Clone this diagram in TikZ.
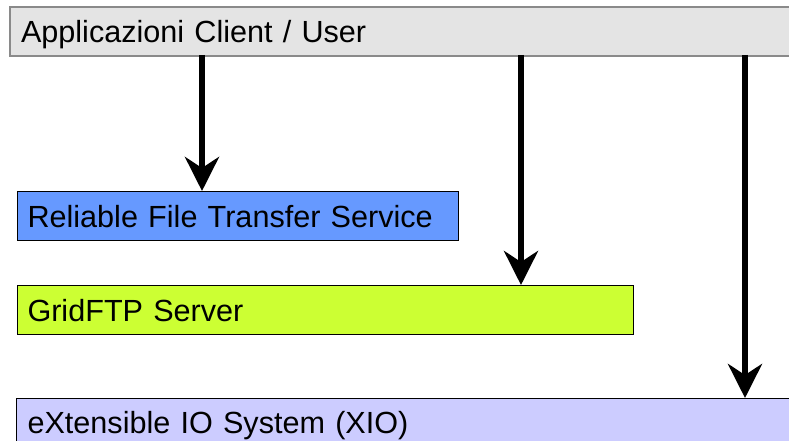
\documentclass[tikz,border=0pt]{standalone}
\usepackage{fontspec}
\setmainfont{Liberation Sans}
\usetikzlibrary{arrows.meta}
\definecolor{topfill}{HTML}{E4E4E4}
\definecolor{topedge}{HTML}{8A8A8A}
\definecolor{rftsfill}{HTML}{6699FF}
\definecolor{gridfill}{HTML}{CCFF33}
\definecolor{xiofill}{HTML}{CCCCFF}
\tikzset{
  layer/.style={draw=black, line width=1pt, rectangle, anchor=north west, inner xsep=10pt,
    text height=22pt, text depth=0pt, align=left,
    font=\fontsize{30.6}{34}\selectfont},
  flow/.style={line width=6.5pt, -{Stealth[length=34pt, width=34pt, inset=11pt]}}
}
\begin{document}
\begin{tikzpicture}[x=1pt,y=-1pt]
\useasboundingbox (0,0) rectangle (789,441);
\fill[white] (0,0) rectangle (789,441);
\node[layer, fill=topfill, draw=topedge, line width=2pt, minimum width=800pt, minimum height=49pt, text width=780pt, inner xsep=11pt] (top) at (9,6) {Applicazioni Client / User};
\node[layer, fill=rftsfill, minimum width=441pt, minimum height=49pt, text width=421pt] (rfts) at (17,191) {Reliable File Transfer Service};
\node[layer, fill=gridfill, minimum width=616pt, minimum height=49pt, text width=596pt] (grid) at (17,285) {GridFTP Server};
\node[layer, fill=xiofill, minimum width=800pt, minimum height=48pt, text width=780pt, inner xsep=11pt] (xio) at (16,398) {eXtensible IO System (XIO)};
\coordinate (a1) at (202,55);
\coordinate (a2) at (521,55);
\coordinate (a3) at (745,55);
\draw[flow] (a1) -- (a1 |- rfts.north);
\draw[flow] (a2) -- (a2 |- grid.north);
\draw[flow] (a3) -- (a3 |- xio.north);
\end{tikzpicture}
\end{document}
